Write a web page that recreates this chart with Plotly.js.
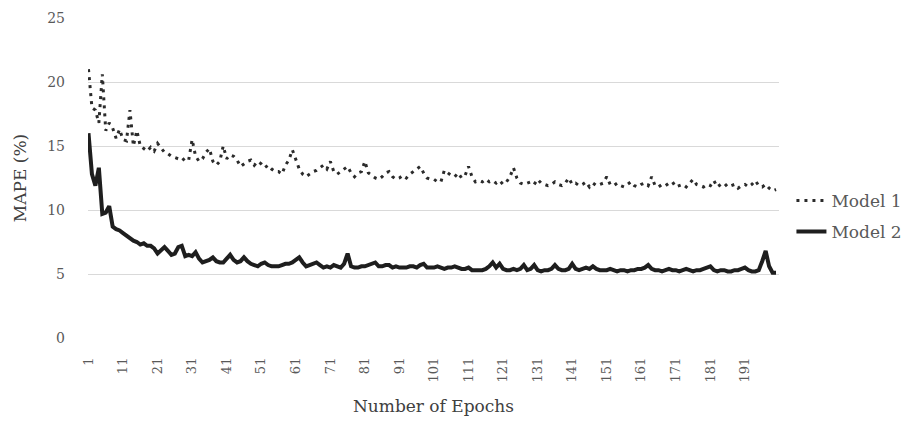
<!DOCTYPE html>
<html>
<head>
<meta charset="utf-8">
<script src="https://cdn.plot.ly/plotly-3.0.1.min.js"></script>
<style>html,body{margin:0;padding:0;background:#fff;}#chart{width:919px;height:425px;}</style>
</head>
<body>
<div id="chart"></div>
<script>
// Epoch numbers 1..200
const epochs = [];
for (let i = 1; i <= 200; i++) epochs.push(i);

// Model 1 MAPE (%) per epoch
const model1 = [
  21.0, 18.0, 17.8, 16.8, 20.6, 16.2, 16.8, 16.4, 15.6, 16.3,
  15.5, 15.4, 17.8, 15.0, 16.2, 15.0, 14.8, 14.6, 14.9, 14.6,
  15.2, 14.8, 14.5, 14.4, 14.2, 14.1, 14.0, 14.1, 13.8, 13.9,
  15.5, 14.2, 13.8, 14.0, 14.5, 14.8, 13.8, 13.5, 13.8, 15.0,
  14.0, 14.3, 14.2, 13.9, 13.4, 13.6, 13.8, 13.9, 13.5, 13.8,
  13.6, 13.3, 13.5, 13.2, 13.0, 13.0, 12.8, 13.5, 13.9, 14.7,
  14.0, 13.2, 12.8, 12.6, 12.8, 13.0, 13.1, 13.3, 13.5, 13.2,
  13.8, 13.0, 12.8, 13.0, 13.2, 13.4, 12.9, 12.6, 12.9, 13.0,
  13.8, 12.9, 12.7, 12.5, 12.4, 12.6, 12.9, 13.0, 12.6, 12.4,
  12.5, 12.7, 12.5, 12.8, 13.0, 13.2, 13.4, 12.9, 12.5, 12.4,
  12.4, 12.2, 12.2, 13.1, 12.9, 12.7, 12.6, 12.9, 12.5, 12.7,
  13.4, 12.6, 12.2, 12.3, 12.2, 12.4, 12.2, 12.3, 12.1, 12.3,
  12.0, 12.2, 12.6, 13.3, 12.5, 12.1, 12.0, 12.1, 12.2, 12.0,
  12.4, 12.1, 12.0, 11.9, 12.0, 12.2, 12.0, 11.9, 12.1, 12.5,
  12.0, 12.1, 11.9, 12.0, 12.2, 11.8, 12.1, 11.9, 12.0, 12.1,
  12.6, 12.0, 11.9, 12.1, 11.9, 11.8, 12.0, 12.2, 11.9, 11.8,
  12.0, 12.1, 11.9, 12.6, 11.9, 11.8, 12.0, 11.9, 12.1, 12.2,
  11.8, 11.9, 12.0, 11.8, 12.1, 12.4, 12.0, 11.9, 11.8, 12.0,
  11.9, 12.3, 11.8, 12.0, 12.1, 11.8, 11.9, 12.0, 11.7, 11.9,
  12.0, 11.8, 12.0, 12.3, 11.9, 11.8, 12.0, 11.7, 11.5, 11.6
];

// Model 2 MAPE (%) per epoch
const model2 = [
  16.0, 12.8, 11.9, 13.3, 9.7, 9.8, 10.3, 8.7, 8.5, 8.4,
  8.2, 8.0, 7.8, 7.6, 7.5, 7.3, 7.4, 7.2, 7.2, 7.0,
  6.6, 6.9, 7.1, 6.8, 6.5, 6.6, 7.1, 7.2, 6.4, 6.5,
  6.4, 6.7, 6.2, 5.9, 6.0, 6.1, 6.3, 6.0, 5.9, 5.9,
  6.2, 6.5, 6.1, 5.9, 6.0, 6.3, 6.0, 5.8, 5.7, 5.6,
  5.8, 5.9, 5.7, 5.6, 5.6, 5.6, 5.7, 5.8, 5.8, 5.9,
  6.1, 6.3, 5.9, 5.6, 5.7, 5.8, 5.9, 5.7, 5.5, 5.6,
  5.5, 5.7, 5.6, 5.5, 5.8, 6.6, 5.6, 5.5, 5.5, 5.6,
  5.6, 5.7, 5.8, 5.9, 5.6, 5.6, 5.7, 5.7, 5.5, 5.6,
  5.5, 5.5, 5.5, 5.6, 5.6, 5.5, 5.7, 5.8, 5.5, 5.5,
  5.5, 5.6, 5.5, 5.4, 5.5, 5.5, 5.6, 5.5, 5.4, 5.4,
  5.5, 5.3, 5.3, 5.3, 5.3, 5.4, 5.6, 5.9, 5.5, 5.8,
  5.4, 5.3, 5.3, 5.4, 5.3, 5.4, 5.7, 5.3, 5.4, 5.7,
  5.3, 5.2, 5.3, 5.3, 5.4, 5.7, 5.4, 5.3, 5.3, 5.4,
  5.8, 5.4, 5.3, 5.4, 5.5, 5.4, 5.6, 5.4, 5.3, 5.3,
  5.3, 5.4, 5.3, 5.2, 5.3, 5.3, 5.2, 5.3, 5.3, 5.4,
  5.4, 5.5, 5.7, 5.4, 5.3, 5.3, 5.2, 5.3, 5.4, 5.3,
  5.3, 5.2, 5.3, 5.4, 5.3, 5.2, 5.3, 5.3, 5.4, 5.5,
  5.6, 5.3, 5.2, 5.3, 5.3, 5.2, 5.2, 5.3, 5.3, 5.4,
  5.5, 5.3, 5.2, 5.2, 5.3, 6.0, 6.8, 5.6, 5.1, 5.1
];

// Tick labels
const xTickVals = [1, 11, 21, 31, 41, 51, 61, 71, 81, 91, 101, 111, 121, 131, 141, 151, 161, 171, 181, 191];
const xTickText = xTickVals.map(String);
const yTickVals = [0, 5, 10, 15, 20, 25];

const FONT = 'DejaVu Serif, Liberation Serif, serif';

const traces = [
  {
    x: epochs, y: model1, type: 'scatter', mode: 'lines', name: 'Model 1',
    legendgroup: 'a',
    line: {color: '#2b2b2b', width: 3, dash: '3px,5px'}
  },
  {
    x: epochs, y: model2, type: 'scatter', mode: 'lines', name: 'Model 2',
    legendgroup: 'b',
    line: {color: '#1e1e1e', width: 4}
  }
];

const layout = {
  width: 919, height: 425,
  paper_bgcolor: '#ffffff', plot_bgcolor: '#ffffff',
  margin: {l: 88, r: 113, t: 18, b: 87},
  font: {family: FONT, color: '#595959', size: 13},
  showlegend: true,
  legend: {
    x: 1.018, xanchor: 'left', y: 0.38, yanchor: 'middle',
    font: {family: FONT, size: 17, color: '#595959'},
    traceorder: 'grouped', tracegroupgap: 6,
    itemwidth: 30, bgcolor: 'rgba(0,0,0,0)'
  },
  xaxis: {
    range: [0.86, 200.86],
    tickmode: 'array', tickvals: xTickVals, ticktext: xTickText,
    tickangle: -90, ticks: '', ticklabelstandoff: 16,
    showgrid: false, zeroline: false, showline: false,
    tickfont: {family: FONT, size: 13, color: '#595959'},
    title: {text: 'Number of Epochs', font: {family: FONT, size: 17, color: '#404040'}, standoff: 18},
    automargin: false
  },
  yaxis: {
    range: [0, 25],
    tickmode: 'array', tickvals: yTickVals,
    ticks: '', ticklabelstandoff: 22,
    showgrid: true, gridcolor: '#d9d9d9', gridwidth: 1,
    zeroline: false, showline: false,
    tickfont: {family: FONT, size: 14, color: '#595959'},
    title: {text: 'MAPE (%)', font: {family: FONT, size: 17, color: '#404040'}, standoff: 16},
    automargin: false
  }
};

Plotly.newPlot('chart', traces, layout, {staticPlot: true, displayModeBar: false});
</script>
</body>
</html>
